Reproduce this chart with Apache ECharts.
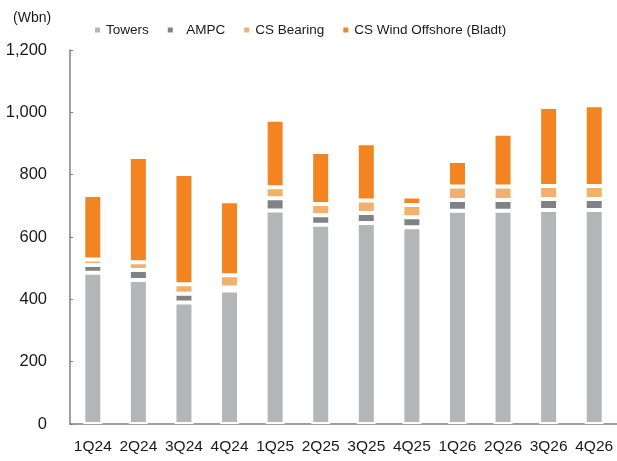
<!DOCTYPE html>
<html>
<head>
<meta charset="utf-8">
<script src="https://cdn.jsdelivr.net/npm/echarts@6/dist/echarts.min.js"></script>
<style>
    html, body { margin: 0; padding: 0; background: #fff; }
    #chart { width: 617px; height: 461px; }
</style>
</head>
<body>
<div id="chart"></div>
<script>
// quarters on the x axis
var quarters = ['1Q24', '2Q24', '3Q24', '4Q24', '1Q25', '2Q25', '3Q25', '4Q25', '1Q26', '2Q26', '3Q26', '4Q26'];
var seriesNames = ['Towers', 'AMPC', 'CS Bearing', 'CS Wind Offshore (Bladt)'];
// values (Wbn)
var towers   = [485, 462, 390, 428, 685, 639, 645, 631, 684, 684, 687, 687];
var ampc     = [25, 32, 28, 10, 39, 31, 32, 32, 35, 35, 35, 35];
var bearing  = [18, 25, 30, 39, 36, 36, 40, 40, 43, 43, 42, 42];
var offshore = [207, 338, 354, 238, 216, 167, 184, 27, 82, 169, 253, 259];
var yTicks = [0, 200, 400, 600, 800, 1000, 1200];

var font = '"Liberation Sans", Arial, sans-serif';
var colors = ['#b4b5b7', '#808285', '#f1b06c', '#f38422'];
var datas = [towers, ampc, bearing, offshore];

var chart = echarts.init(document.getElementById('chart'));

var series = [];
for (var i = 0; i < seriesNames.length; i++) {
    series.push({
        name: seriesNames[i],
        type: 'bar',
        stack: 'total',
        barWidth: 19,
        itemStyle: {
            color: colors[i],
            borderColor: '#fff',
            borderWidth: 2
        },
        data: datas[i]
    });
}

var option = {
    animation: false,
    color: colors,
    textStyle: { fontFamily: font, color: '#1a1a1a' },
    title: {
        text: '(Wbn)',
        left: 8,
        top: 6,
        textStyle: { fontFamily: font, fontSize: 14, fontWeight: 'normal', color: '#1a1a1a' }
    },
    legend: {
        left: 88,
        top: 18,
        itemWidth: 7,
        itemHeight: 7,
        itemGap: 17,
        icon: 'rect',
        formatter: function (name) {
            return name === 'AMPC' ? '  AMPC' : name;
        },
        textStyle: { fontFamily: font, fontSize: 13.5, color: '#1a1a1a' },
        data: seriesNames
    },
    grid: { left: 70, right: 0, top: 50, bottom: 37, containLabel: false },
    xAxis: {
        type: 'category',
        data: quarters,
        axisLine: { lineStyle: { color: '#808080', width: 1.5 } },
        axisTick: { inside: true, length: 6, lineStyle: { color: '#808080' } },
        axisLabel: { interval: 0, fontFamily: font, fontSize: 15.5, color: '#1a1a1a', margin: 15 }
    },
    yAxis: {
        type: 'value',
        min: yTicks[0],
        max: yTicks[yTicks.length - 1],
        interval: 200,
        splitLine: { show: false },
        axisLine: { show: true, lineStyle: { color: '#808080', width: 1.5 } },
        axisTick: { show: true, inside: true, length: 3, lineStyle: { color: '#808080' } },
        axisLabel: {
            fontFamily: font,
            fontSize: 16.5,
            color: '#1a1a1a',
            margin: 23,
            formatter: function (v) { return v.toLocaleString('en-US'); }
        }
    },
    series: series
};

chart.setOption(option);
</script>
</body>
</html>
